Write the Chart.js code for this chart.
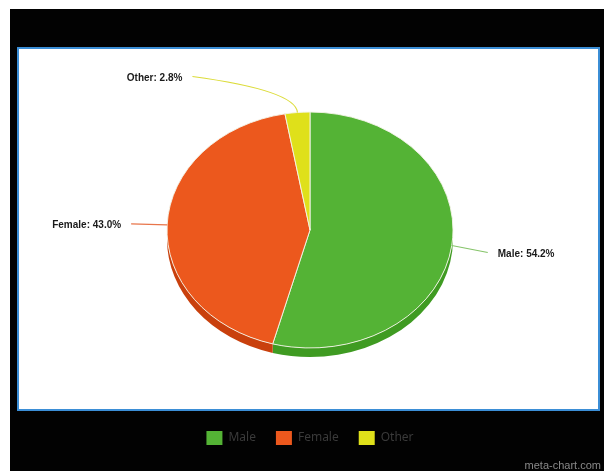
<!DOCTYPE html>
<html>
<head>
<meta charset="utf-8">
<title>Gender split</title>
<script src="https://cdn.jsdelivr.net/npm/chart.js@4/dist/chart.umd.min.js"></script>
<style>
  html, body { margin: 0; padding: 0; background: #fff; }
  canvas { display: block; }
</style>
</head>
<body>
<canvas id="chart" width="604" height="471"></canvas>
<script>
// values
const categories = ['Male', 'Female', 'Other'];
const shares = [54.2, 43.0, 2.8];
const sliceColors = ['#54b335', '#ec581d', '#dfe01a'];
const sideColors = ['#3f9b22', '#c9400d', '#b9ba10'];
const lineColors = ['#86c46a', '#e8754a', '#dcdc3a'];

const TILT = 0.825;  // vertical squash of the pie
const DEPTH = 9;     // thickness of the 3D rim

// black frame + white panel behind the chart
const frame = {
  id: 'frame',
  beforeDraw(chart) {
    const ctx = chart.ctx;
    ctx.save();
    ctx.fillStyle = '#fff';
    ctx.fillRect(0, 0, chart.width, chart.height);
    ctx.fillStyle = '#020202';
    ctx.fillRect(10, 9, chart.width - 10, chart.height - 9);
    ctx.fillStyle = '#fff';
    ctx.fillRect(18, 48, 581, 362);
    ctx.strokeStyle = '#3b8ed6';
    ctx.lineWidth = 2;
    ctx.strokeRect(18, 48, 581, 362);
    ctx.fillStyle = '#8a8a8a';
    ctx.font = '11px "Liberation Sans", Arial, sans-serif';
    ctx.textAlign = 'right';
    ctx.textBaseline = 'alphabetic';
    ctx.fillText('meta-chart.com', 601, 469);
    ctx.restore();
  }
};

// fake 3D: draw the rim, then squash the top face
const tilt3d = {
  id: 'tilt3d',
  beforeDatasetsDraw(chart) {
    const ctx = chart.ctx;
    const arcs = chart.getDatasetMeta(0).data;
    if (!arcs.length) return;
    ctx.save();
    arcs.forEach((arc, i) => {
      const rx = arc.outerRadius, ry = rx * TILT;
      const s = Math.max(arc.startAngle, 0);
      const e = Math.min(arc.endAngle, Math.PI);
      if (e <= s) return;
      ctx.beginPath();
      ctx.ellipse(arc.x, arc.y + DEPTH, rx, ry, 0, s, e, false);
      ctx.ellipse(arc.x, arc.y, rx, ry, 0, e, s, true);
      ctx.closePath();
      ctx.fillStyle = sideColors[i];
      ctx.fill();
    });
    ctx.restore();
    const { x, y } = arcs[0];
    ctx.save();
    ctx.translate(x, y);
    ctx.scale(1, TILT);
    ctx.translate(-x, -y);
  },
  afterDatasetsDraw(chart) {
    chart.ctx.restore();
  }
};

// outside labels with leader lines
const sliceLabels = {
  id: 'sliceLabels',
  afterDatasetsDraw(chart, args, opts) {
    const ctx = chart.ctx;
    const arcs = chart.getDatasetMeta(0).data;
    ctx.save();
    arcs.forEach((arc, i) => {
      const mid = (arc.startAngle + arc.endAngle) / 2;
      const rx = arc.outerRadius, ry = rx * TILT;
      const px = arc.x + Math.cos(mid) * rx;
      const py = arc.y + Math.sin(mid) * ry;
      const [dx, dy] = opts.offsets[i];
      const lx = px + dx, ly = py + dy;
      const right = dx >= 0;
      ctx.strokeStyle = lineColors[i];
      ctx.lineWidth = 1.2;
      ctx.beginPath();
      ctx.moveTo(px, py);
      const knee = opts.knees[i];
      if (knee) ctx.quadraticCurveTo(px + knee[0], py + knee[1], lx, ly);
      else ctx.lineTo(lx, ly);
      ctx.stroke();

      const text = categories[i] + ': ' + shares[i].toFixed(1) + '%';
      ctx.fillStyle = '#1a1a1a';
      ctx.font = 'bold 11px "Liberation Sans", Arial, sans-serif';
      ctx.textBaseline = 'middle';
      ctx.save();
      const tx = right ? lx + 10 : lx - 10;
      ctx.translate(tx, ly + 1);
      ctx.scale(0.91, 1);
      ctx.textAlign = right ? 'left' : 'right';
      ctx.fillText(text, 0, 0);
      ctx.restore();
    });
    ctx.restore();
  }
};

new Chart(document.getElementById('chart'), {
  type: 'pie',
  data: {
    labels: categories,
    datasets: [{
      data: shares,
      backgroundColor: sliceColors,
      borderColor: '#f4f4e8',
      borderWidth: 1
    }]
  },
  options: {
    responsive: false,
    animation: false,
    radius: 143,
    layout: { padding: { top: 49, bottom: 16, left: 16, right: 0 } },
    plugins: {
      tooltip: { enabled: false },
      legend: {
        position: 'bottom',
        labels: {
          boxWidth: 16,
          boxHeight: 14,
          padding: 20,
          color: '#3a3a3a',
          font: { size: 12, family: '"Noto Sans", "Open Sans", sans-serif' },
          generateLabels(chart) {
            return Chart.overrides.pie.plugins.legend.labels.generateLabels(chart)
              .map(l => Object.assign(l, { lineWidth: 0, strokeStyle: 'transparent', fontColor: '#3a3a3a' }));
          }
        }
      },
      sliceLabels: {
        offsets: [[36, 7], [-36, -1], [-105, -36]],
        knees: [null, null, [-1.5, -22]]
      }
    }
  },
  plugins: [frame, tilt3d, sliceLabels]
});
</script>
</body>
</html>
